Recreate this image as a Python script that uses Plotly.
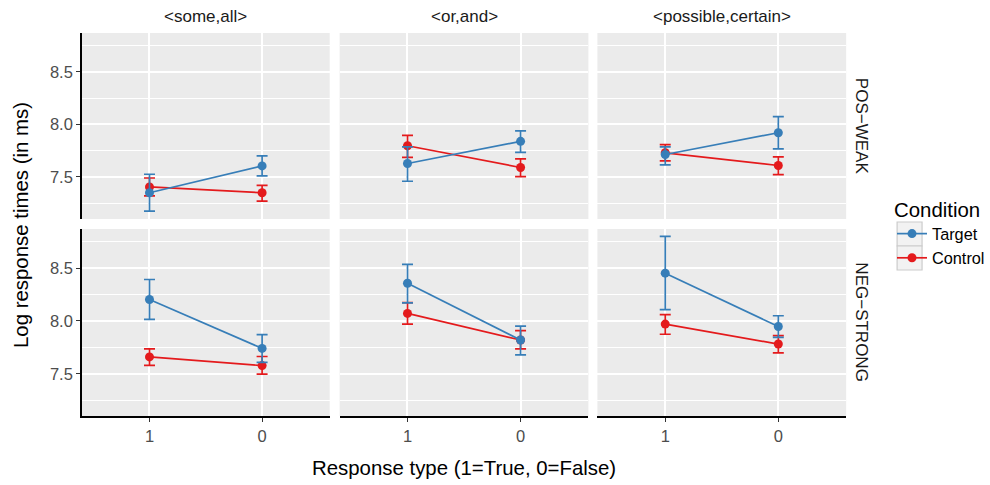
import plotly.graph_objects as go

# ---------------- data ----------------
response_types = ["1", "0"]
facet_cols = ["<some,all>", "<or,and>", "<possible,certain>"]
facet_rows = ["POS\u2212WEAK", "NEG\u2212STRONG"]

# means / lower / upper per facet (row-major: row, col), values for response 1 then 0
target_mean = [[[7.35, 7.605], [7.628, 7.839], [7.714, 7.921]],
               [[8.203, 7.74], [8.356, 7.819], [8.452, 7.947]]]
target_low = [[[7.175, 7.51], [7.459, 7.734], [7.615, 7.768]],
              [[8.014, 7.608], [8.171, 7.679], [8.107, 7.845]]]
target_high = [[[7.526, 7.70], [7.787, 7.938], [7.787, 8.075]],
               [[8.392, 7.87], [8.535, 7.95], [8.80, 8.049]]]

control_mean = [[[7.405, 7.35], [7.797, 7.59], [7.73, 7.609]],
                [[7.659, 7.577], [8.071, 7.819], [7.97, 7.781]]]
control_low = [[[7.32, 7.27], [7.686, 7.504], [7.653, 7.523]],
               [[7.58, 7.496], [7.97, 7.736], [7.874, 7.697]]]
control_high = [[[7.49, 7.42], [7.896, 7.672], [7.807, 7.692]],
                [[7.736, 7.663], [8.174, 7.908], [8.059, 7.86]]]

conditions = ["Control", "Target"]
colors = {"Target": "#377EB8", "Control": "#E41A1C"}
series = {"Target": (target_mean, target_low, target_high),
          "Control": (control_mean, control_low, control_high)}

W, H = 990, 485
x_dom_px = [(82, 330), (340, 589), (598, 847)]
y_dom_px = [(33, 219), (229, 416)]

FONT = "Liberation Sans, Arial, sans-serif"

fig = go.Figure()
layout = {}

for r in range(2):
    for c in range(3):
        idx = r * 3 + c + 1
        xa = "x" if idx == 1 else f"x{idx}"
        ya = "y" if idx == 1 else f"y{idx}"
        for cond in conditions:
            m, lo, hi = series[cond]
            mean = m[r][c]
            fig.add_trace(go.Scatter(
                x=response_types, y=mean, xaxis=xa, yaxis=ya,
                mode="lines+markers", name=cond,
                legendgroup=cond, showlegend=(idx == 1),
                legendrank=1 if cond == "Target" else 2,
                line=dict(color=colors[cond], width=1.7),
                marker=dict(color=colors[cond], size=9),
                error_y=dict(type="data", symmetric=False,
                             array=[hi[r][c][i] - mean[i] for i in range(2)],
                             arrayminus=[mean[i] - lo[r][c][i] for i in range(2)],
                             color=colors[cond], thickness=1.7, width=5.5),
            ))
        xd = x_dom_px[c]
        yd = y_dom_px[r]
        layout["xaxis" if idx == 1 else f"xaxis{idx}"] = dict(
            domain=[xd[0] / W, xd[1] / W], anchor=ya,
            type="category", categoryorder="array", categoryarray=response_types,
            range=[-0.6, 1.6], showgrid=True, gridcolor="white", gridwidth=1.6,
            zeroline=False,
            showticklabels=(r == 1), ticks="outside" if r == 1 else "",
            ticklen=4, tickcolor="#333333", tickwidth=1,
            tickfont=dict(family=FONT, size=16.5, color="#4D4D4D"),
            showline=(r == 1), linecolor="black", linewidth=1.5,
            fixedrange=True,
        )
        layout["yaxis" if idx == 1 else f"yaxis{idx}"] = dict(
            domain=[1 - yd[1] / H, 1 - yd[0] / H], anchor=xa,
            range=[7.10, 8.87], tickvals=[7.5, 8.0, 8.5], ticktext=["7.5", "8.0", "8.5"],
            showgrid=True, gridcolor="white", gridwidth=1.6, zeroline=False,
            minor=dict(tickvals=[7.25, 7.75, 8.25, 8.75], showgrid=True,
                       gridcolor="white", gridwidth=0.8, ticks=""),
            showticklabels=(c == 0), ticks="outside" if c == 0 else "",
            ticklen=4, tickcolor="#333333", tickwidth=1,
            tickfont=dict(family=FONT, size=16.5, color="#4D4D4D"),
            showline=(c == 0), linecolor="black", linewidth=1.5,
            fixedrange=True,
        )

annotations = []
for c, name in enumerate(facet_cols):
    xd = x_dom_px[c]
    annotations.append(dict(x=(xd[0] + xd[1]) / 2 / W, y=1 - 17 / H, xref="paper", yref="paper",
                            text=name, showarrow=False, xanchor="center", yanchor="middle",
                            font=dict(family=FONT, size=17, color="#1A1A1A")))
for r, name in enumerate(facet_rows):
    yd = y_dom_px[r]
    annotations.append(dict(x=862 / W, y=1 - (yd[0] + yd[1]) / 2 / H, xref="paper", yref="paper",
                            text=name, showarrow=False, textangle=90, xanchor="center", yanchor="middle",
                            font=dict(family=FONT, size=17, color="#1A1A1A")))
annotations.append(dict(x=21 / W, y=1 - 225 / H, xref="paper", yref="paper",
                        text="Log response times (in ms)", showarrow=False, textangle=-90,
                        xanchor="center", yanchor="middle",
                        font=dict(family=FONT, size=20.4, color="black")))
annotations.append(dict(x=464 / W, y=1 - 468 / H, xref="paper", yref="paper",
                        text="Response type (1=True, 0=False)", showarrow=False,
                        xanchor="center", yanchor="middle",
                        font=dict(family=FONT, size=20.4, color="black")))

shapes = []
for (y0, y1) in [(222, 246), (246, 270)]:
    shapes.append(dict(type="rect", xref="paper", yref="paper",
                       x0=898 / W, x1=923 / W, y0=1 - y1 / H, y1=1 - y0 / H,
                       fillcolor="#F2F2F2", line=dict(color="#CCCCCC", width=1.2), layer="below"))

fig.update_layout(
    width=W, height=H,
    margin=dict(l=0, r=0, t=0, b=0),
    paper_bgcolor="white", plot_bgcolor="#EBEBEB",
    annotations=annotations, shapes=shapes,
    showlegend=True,
    legend=dict(x=893 / W, y=1 - 190 / H, xanchor="left", yanchor="top",
                bgcolor="rgba(0,0,0,0)", tracegroupgap=0,
                title=dict(text="Condition", font=dict(family=FONT, size=20.4, color="black")),
                font=dict(family=FONT, size=16.3, color="black"),
                itemwidth=30),
    font=dict(family=FONT),
    **layout,
)

fig.write_html("out.html", config={"displayModeBar": False},
               post_script="document.body.style.margin='0';document.body.style.overflow='hidden';")
